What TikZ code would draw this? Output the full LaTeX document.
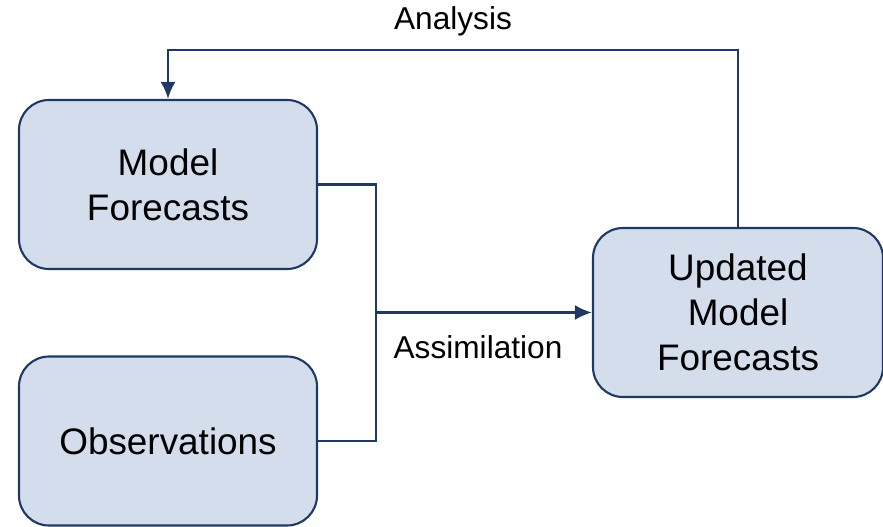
\documentclass[tikz,border=0pt]{standalone}
\usepackage{fontspec}
\setmainfont{Liberation Sans}
\usepackage{xcolor}
\usepackage{tikz}
\usetikzlibrary{positioning, arrows.meta}

\definecolor{boxfill}{HTML}{D3DDEC}
\definecolor{navy}{HTML}{1F3864}

\begin{document}
\begin{tikzpicture}[
    box/.style={rectangle, draw=navy, line width=1.2pt, fill=boxfill, rounded corners=0.6cm, minimum width=5.96cm, minimum height=3.38cm, align=center, font=\fontsize{21}{25.5}\selectfont},
    lbl/.style={font=\fontsize{18}{21}\selectfont},
    arrow/.style={-{Latex[length=0.34cm, width=0.3cm]}, draw=navy, line width=1.4pt},
    link/.style={draw=navy, line width=1.4pt}
]
\useasboundingbox (0,0) rectangle (17.66,-10.54);

\node[box] (model) at (3.36,-3.69) {Model\\ Forecasts};
\node[box] (obs) at (3.36,-8.82) {Observations};
\node[box, minimum width=5.8cm] (upd) at (14.76,-6.25) {Updated\\ Model\\ Forecasts};

\coordinate (bus) at (7.52,-6.25);
\coordinate (loop) at (3.36,-1.0);

\draw[link] (model.east) -| (bus) |- (obs.east);
\draw[arrow] (bus) -- (upd.west);
\draw[arrow] (upd.north) |- (loop) -| (model.north);

\node[lbl] (assim) at (9.56,-6.94) {Assimilation};
\node[lbl] (anal) at (9.06,-0.42) {Analysis};
\end{tikzpicture}
\end{document}
